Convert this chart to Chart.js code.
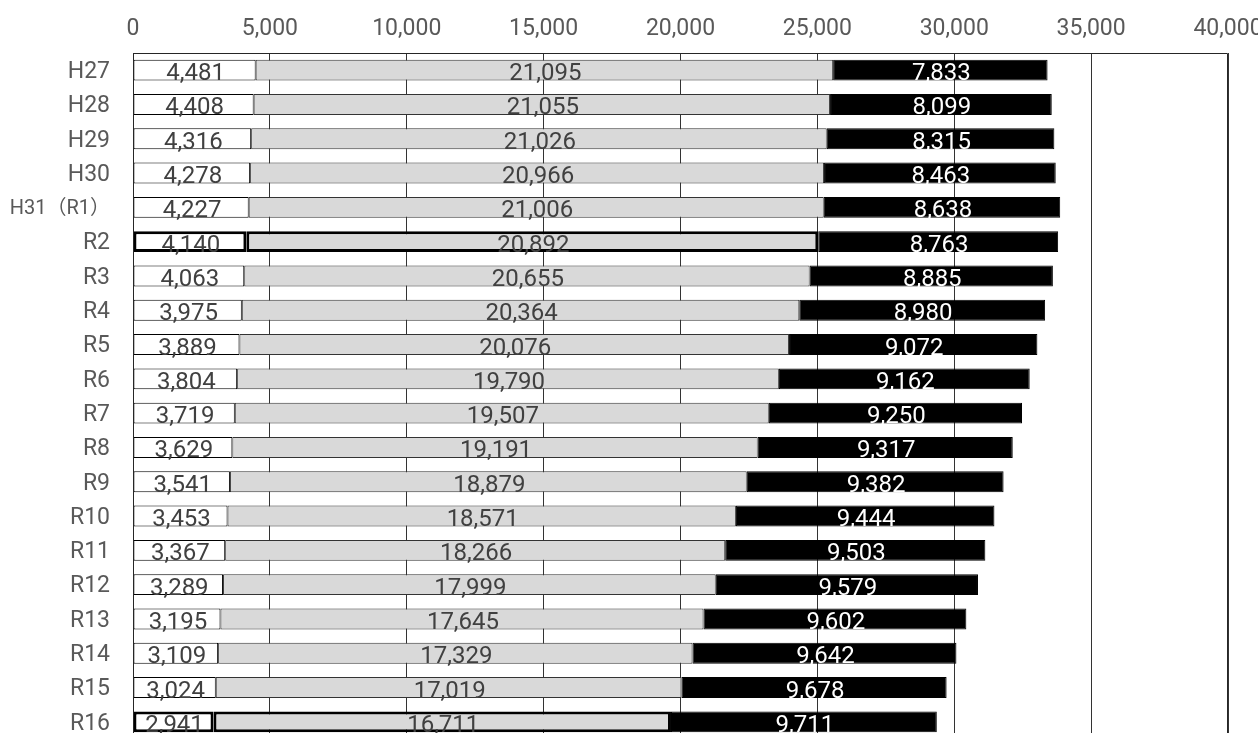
<!DOCTYPE html>
<html>
<head>
<meta charset="utf-8">
<script src="https://cdn.jsdelivr.net/npm/chart.js@4.4.1/dist/chart.umd.min.js"></script>
<style>
  html, body { margin: 0; padding: 0; background: #fff; overflow: hidden; }
  canvas { display: block; }
</style>
</head>
<body>
<canvas id="c" width="1258" height="742" style="width:1258px;height:742px"></canvas>
<script>
const categories = ['H27','H28','H29','H30','H31（R1）','R2','R3','R4','R5','R6','R7','R8','R9','R10','R11','R12','R13','R14','R15','R16'];
const seriesA = [4481,4408,4316,4278,4227,4140,4063,3975,3889,3804,3719,3629,3541,3453,3367,3289,3195,3109,3024,2941];
const seriesB = [21095,21055,21026,20966,21006,20892,20655,20364,20076,19790,19507,19191,18879,18571,18266,17999,17645,17329,17019,16711];
const seriesC = [7833,8099,8315,8463,8638,8763,8885,8980,9072,9162,9250,9317,9382,9444,9503,9579,9602,9642,9678,9711];
const xTicks = [0,5000,10000,15000,20000,25000,30000,35000,40000];
const highlighted = ['R2','R16'];

const bw = (thin, thick) => categories.map(c => highlighted.includes(c) ? thick : thin);

const framePlugin = {
  id: 'frame',
  afterDraw(chart) {
    const { ctx, chartArea: a } = chart;
    ctx.save();
    ctx.strokeStyle = '#262626';
    ctx.lineWidth = 1;
    const l = Math.round(a.left) + 0.5, t = Math.round(a.top) + 0.5, r = Math.round(a.right) - 0.5, b = Math.round(a.bottom) - 0.5;
    ctx.beginPath();
    ctx.moveTo(l, b); ctx.lineTo(l, t); ctx.lineTo(r, t); ctx.lineTo(r, b);
    ctx.stroke();
    ctx.restore();
  }
};

const labelPlugin = {
  id: 'segLabels',
  afterDatasetsDraw(chart) {
    const ctx = chart.ctx;
    chart.data.datasets.forEach((ds, di) => {
      const meta = chart.getDatasetMeta(di);
      meta.data.forEach((el, i) => {
        const p = el.getProps(['x','y','base','height'], true);
        const cx = (p.x + p.base) / 2;
        ctx.save();
        ctx.font = "24px Roboto, 'Noto Sans', sans-serif";
        ctx.textAlign = 'center';
        ctx.textBaseline = 'alphabetic';
        ctx.fillStyle = ds.labelColor;
        ctx.fillText(ds.data[i].toLocaleString('en-US'), cx + 1, p.y + 10);
        ctx.restore();
      });
    });
  }
};

const tickFamily = "Roboto, 'Noto Sans CJK JP', sans-serif";

new Chart(document.getElementById('c'), {
  type: 'bar',
  data: {
    labels: categories,
    datasets: [
      { label: 'A', data: seriesA, backgroundColor: '#ffffff', borderColor: '#000000', borderWidth: bw(1, 3), borderSkipped: false, labelColor: '#404040' },
      { label: 'B', data: seriesB, backgroundColor: '#d9d9d9', borderColor: bw('#333333', '#000000'), borderWidth: bw(1, 3), borderSkipped: false, labelColor: '#404040' },
      { label: 'C', data: seriesC, backgroundColor: '#000000', borderColor: '#000000', borderWidth: 1, borderSkipped: false, labelColor: '#ffffff' }
    ]
  },
  options: {
    indexAxis: 'y',
    responsive: false,
    animation: false,
    devicePixelRatio: 1,
    layout: { padding: { top: 0, left: 0, right: 30, bottom: 3 } },
    plugins: { legend: { display: false }, tooltip: { enabled: false } },
    datasets: { bar: { categoryPercentage: 1, barPercentage: 0.61 } },
    scales: {
      x: {
        position: 'top',
        stacked: true,
        min: 0, max: 40000,
        afterBuildTicks(scale) { scale.ticks = xTicks.map(v => ({ value: v })); },
        afterFit(scale) { scale.height = 53; scale.paddingLeft = 0; scale.paddingRight = 0; },
        ticks: {
          color: '#595959',
          font: { family: tickFamily, size: 23 },
          padding: 10,
          maxRotation: 0,
          callback: v => Number(v).toLocaleString('en-US')
        },
        grid: { color: '#333333', lineWidth: 1, drawTicks: false, tickLength: 0 },
        border: { display: false }
      },
      y: {
        stacked: true,
        afterFit(scale) { scale.width = 133; scale.paddingTop = 0; scale.paddingBottom = 0; },
        ticks: {
          color: '#595959',
          font: (c) => ({ family: tickFamily, size: (c.tick && String(c.tick.label).length > 4) ? 20 : 23 }),
          padding: 23,
          labelOffset: 2
        },
        grid: { display: false, drawTicks: false, tickLength: 0 },
        border: { display: false }
      }
    }
  },
  plugins: [framePlugin, labelPlugin]
});
</script>
</body>
</html>
